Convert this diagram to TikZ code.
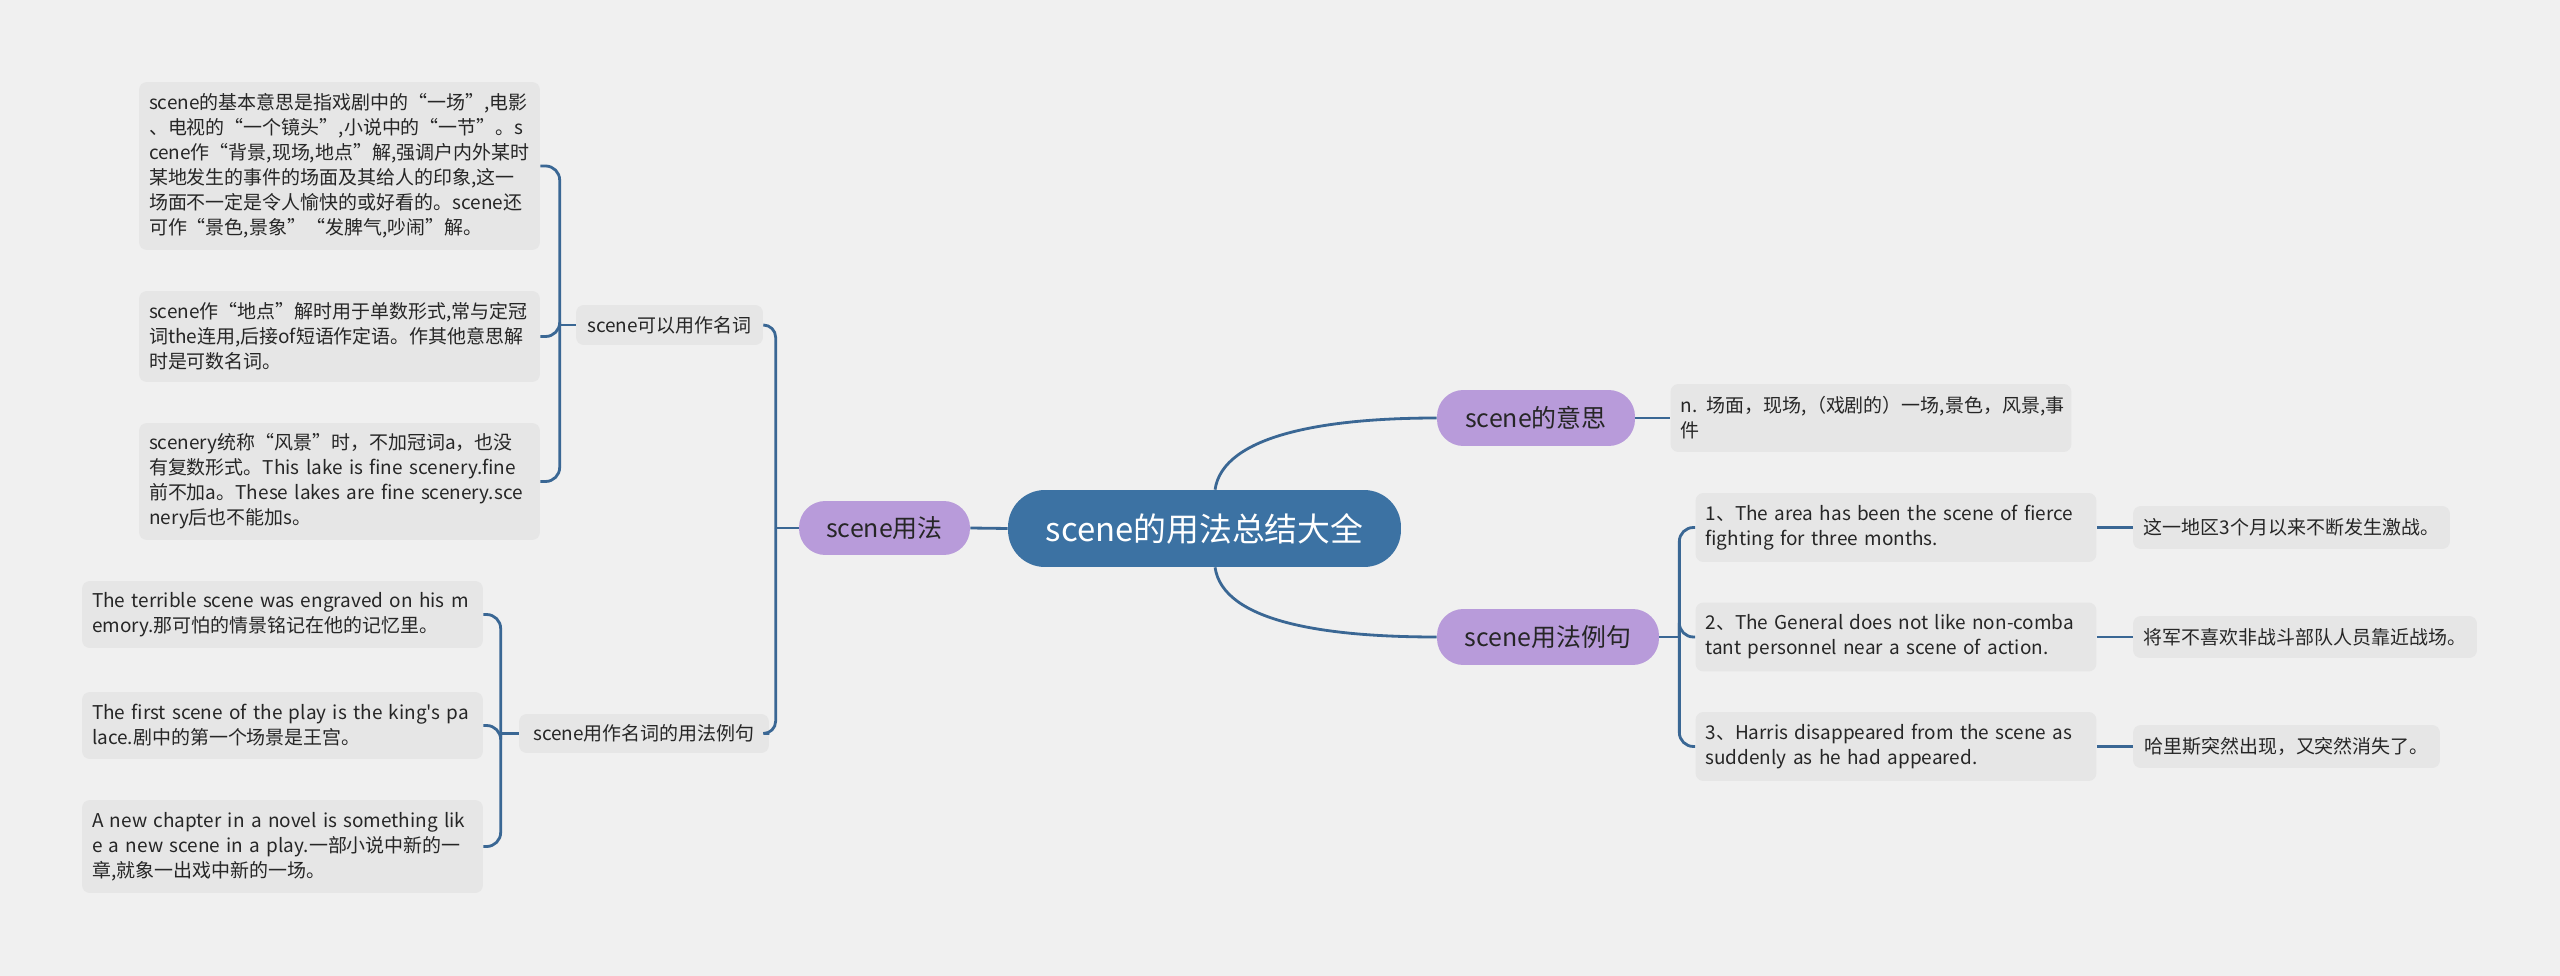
\documentclass[tikz,border=0pt]{standalone}
\usepackage{fontspec}
\setmainfont{Noto Sans CJK SC}[Ligatures=TeXOff]
\definecolor{bgc}{HTML}{F0F0F0}
\definecolor{leafc}{HTML}{E6E6E6}
\definecolor{topicc}{HTML}{B89BDA}
\definecolor{rootc}{HTML}{3C72A3}
\definecolor{linkc}{HTML}{3A6794}
\definecolor{txtc}{HTML}{262626}
\begin{document}
\begin{tikzpicture}[x=0.02cm, y=-0.02cm,
    link/.style={draw=linkc, line width=1.6pt},
    leaf/.style={fill=leafc, rounded corners=4.5pt, text=txtc, inner xsep=0.2cm, inner ysep=2pt,
      font=\fontsize{10.8}{14.2}\selectfont},
    note/.style={leaf, text width=7.62cm, align=left},
    topic/.style={fill=topicc, rounded corners=15pt, text=txtc, inner sep=0pt,
      font=\fontsize{14.2}{17}\selectfont},
    rootbox/.style={fill=rootc, rounded corners=21pt, text=white, inner sep=0pt,
      font=\fontsize{18.7}{22}\selectfont}]
  \fill[bgc] (0,0) rectangle (2560,976);
  \useasboundingbox (0,0) rectangle (2560,976);

  \node[rootbox, minimum width=7.86cm, minimum height=1.54cm] (root) at (1204.5,528.5) {scene的用法总结大全};
  \node[topic, minimum width=3.42cm, minimum height=1.08cm] (use) at (884.5,528) {scene用法};
  \node[topic, minimum width=3.96cm, minimum height=1.12cm] (mean) at (1536,418) {scene的意思};
  \node[topic, minimum width=4.44cm, minimum height=1.12cm] (sent) at (1548,637) {scene用法例句};

  \node[leaf, minimum width=3.74cm, minimum height=0.8cm] (noun) at (669.5,325) {scene可以用作名词};
  \node[leaf, minimum width=5cm, minimum height=0.78cm] (usage) at (644,733.5) {scene用作名词的用法例句};

  \node[note, minimum height=3.36cm] (d1) at (339.5,166) {scene的基本意思是指戏剧中的“一场”,电影\\
    、电视的“一个镜头”,小说中的“一节”。s\\
    cene作“背景,现场,地点”解,强调户内外某时\\
    某地发生的事件的场面及其给人的印象,这一\\
    场面不一定是令人愉快的或好看的。scene还\\
    可作“景色,景象”“发脾气,吵闹”解。};
  \node[note, minimum height=1.82cm] (d2) at (339.5,336.5) {scene作“地点”解时用于单数形式,常与定冠\\
    词the连用,后接of短语作定语。作其他意思解\\
    时是可数名词。};
  \node[note, minimum height=2.34cm] (d3) at (339.5,481.5) {scenery统称“风景”时，不加冠词a，也没\\
    有复数形式。This lake is fine scenery.fine\\
    前不加a。These lakes are fine scenery.sce\\
    nery后也不能加s。};

  \node[note, minimum height=1.34cm] (e1) at (282.5,614.5) {\mbox{The terrible scene was engraved on his m}\\
    emory.那可怕的情景铭记在他的记忆里。};
  \node[note, minimum height=1.34cm] (e2) at (282.5,725.5) {\mbox{The first scene of the play is the king's pa}\\
    lace.剧中的第一个场景是王宫。};
  \node[note, minimum height=1.86cm] (e3) at (282.5,846.5) {\mbox{A new chapter in a novel is something lik}\\
    e a new scene in a play.一部小说中新的一\\
    章,就象一出戏中新的一场。};

  \node[note, minimum height=1.36cm] (m1) at (1871,418) {\mbox{n. 场面，现场,（戏剧的）一场,景色，风景,事}\\件};

  \node[note, minimum height=1.38cm] (s1) at (1896,527.5) {\mbox{1、The area has been the scene of fierce}\\
    fighting for three months.};
  \node[note, minimum height=1.38cm] (s2) at (1896,637) {\mbox{2、The General does not like non-comba}\\
    tant personnel near a scene of action.};
  \node[note, minimum height=1.38cm] (s3) at (1896,746.5) {\mbox{3、Harris disappeared from the scene as}\\
    suddenly as he had appeared.};

  \node[leaf, minimum width=6.34cm, minimum height=0.86cm] (t1) at (2291.5,527.5) {这一地区3个月以来不断发生激战。};
  \node[leaf, minimum width=6.88cm, minimum height=0.84cm] (t2) at (2305,637) {将军不喜欢非战斗部队人员靠近战场。};
  \node[leaf, minimum width=6.14cm, minimum height=0.86cm] (t3) at (2286.5,746.5) {哈里斯突然出现，又突然消失了。};

  \draw[link] (root.west) -- (use.east);
  \draw[link] ([xshift=6pt]root.north) .. controls +(8,-55) and +(-110,0) .. (mean.west);
  \draw[link] ([xshift=6pt]root.south) .. controls +(8,55) and +(-110,0) .. (sent.west);

  \path (use.west) ++(-23,0) coordinate (uj);
  \draw[link] (use.west) -- (uj);
  \foreach \n in {noun,usage}
    \draw[link, rounded corners=7pt] (uj) |- (\n.east);

  \path (noun.west) ++(-16,0) coordinate (nj);
  \draw[link] (noun.west) -- (nj);
  \foreach \n in {d1,d2,d3}
    \draw[link, rounded corners=8pt] (nj) |- (\n.east);

  \path (usage.west) ++(-18,0) coordinate (gj);
  \draw[link] (usage.west) -- (gj);
  \foreach \n in {e1,e2,e3}
    \draw[link, rounded corners=8pt] (gj) |- (\n.east);

  \draw[link] (mean.east) -- (m1.west);

  \path (sent.east) ++(20,0) coordinate (sj);
  \draw[link] (sent.east) -- (sj);
  \foreach \n in {s1,s2,s3}
    \draw[link, rounded corners=8pt] (sj) |- (\n.west);

  \foreach \n/\t in {s1/t1,s2/t2,s3/t3}
    \draw[link] (\n.east) -- (\t.west);
\end{tikzpicture}
\end{document}
